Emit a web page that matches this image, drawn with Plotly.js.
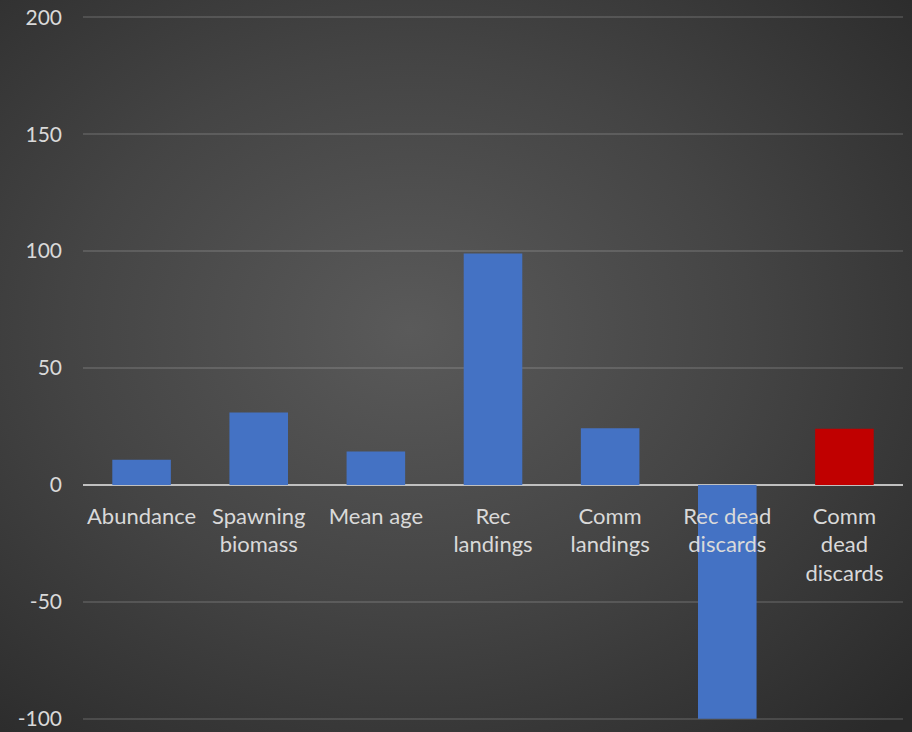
<!DOCTYPE html>
<html>
<head>
<meta charset="utf-8">
<script src="https://cdn.plot.ly/plotly-3.0.1.min.js"></script>
<style>
  html, body { margin: 0; padding: 0; }
  body { width: 912px; height: 732px; overflow: hidden;
    background: radial-gradient(ellipse 75% 75% at 45% 45%, #5a5a5a 0%, #444444 50%, #2a2a2a 100%); }
  #chart { width: 912px; height: 732px; }
</style>
</head>
<body>
<div id="chart"></div>
<script>
const categories = ["Abundance", "Spawning<br>biomass", "Mean age", "Rec<br>landings", "Comm<br>landings", "Rec dead<br>discards", "Comm<br>dead<br>discards"];
const values = [10.8, 31, 14.3, 99, 24.2, -100, 24];
const barColors = ["#4472c4", "#4472c4", "#4472c4", "#4472c4", "#4472c4", "#4472c4", "#c00000"];
const yTickValues = [-100, -50, 0, 50, 100, 150, 200];
const yTickText = ["-100", "-50", "0", "50", "100", "150", "200"];

const yRange = [-101, 201];

const trace = {
  type: "bar",
  x: categories,
  y: values,
  marker: { color: barColors, line: { width: 0 } },
  hoverinfo: "x+y"
};

const layout = {
  width: 912,
  height: 732,
  margin: { l: 83, r: 9, t: 15, b: 11 },
  paper_bgcolor: "rgba(0,0,0,0)",
  plot_bgcolor: "rgba(0,0,0,0)",
  font: { family: "Lato, 'Open Sans', sans-serif", size: 21, color: "#d9d9d9" },
  bargap: 0.5,
  showlegend: false,
  xaxis: {
    type: "category",
    anchor: "free",
    position: (0 - yRange[0]) / (yRange[1] - yRange[0]),
    showline: false,
    showgrid: false,
    ticks: "",
    tickangle: 0,
    ticklabelstandoff: 16,
    ticklabeloverflow: "allow",
    tickfont: { size: 22, color: "#d9d9d9" }
  },
  yaxis: {
    range: yRange,
    tickvals: yTickValues,
    ticktext: yTickText,
    showgrid: true,
    gridcolor: "rgba(255,255,255,0.13)",
    gridwidth: 2,
    zeroline: true,
    zerolinecolor: "#c0c0c0",
    zerolinewidth: 2,
    showline: false,
    ticks: "",
    ticklabelstandoff: 20,
    ticklabeloverflow: "allow",
    tickfont: { size: 21, color: "#d9d9d9" }
  }
};

Plotly.newPlot("chart", [trace], layout, { displayModeBar: false, staticPlot: true });
</script>
</body>
</html>
